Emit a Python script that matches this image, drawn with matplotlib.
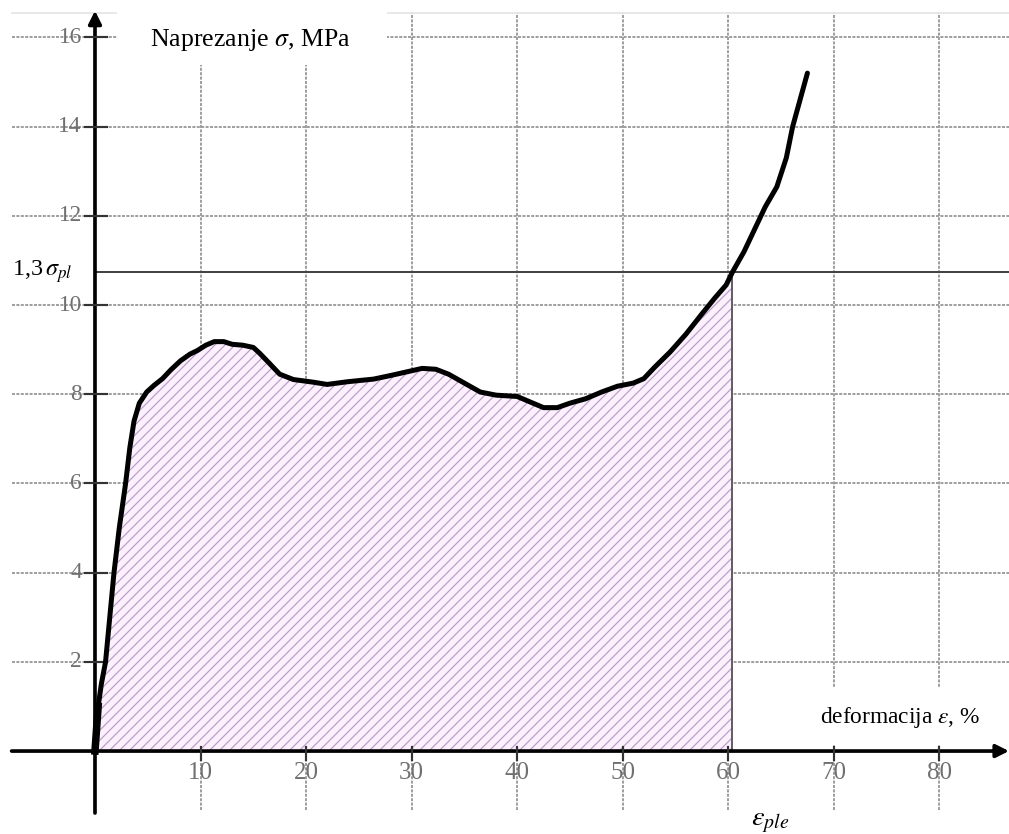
import numpy as np
import matplotlib
matplotlib.use('Agg')
import matplotlib.pyplot as plt
from matplotlib.patches import Rectangle

plt.rcParams['font.family'] = ['Liberation Serif', 'DejaVu Serif']
plt.rcParams['mathtext.fontset'] = 'stix'
plt.rcParams['hatch.linewidth'] = 0.7

# strain (%) and stress (MPa)
strain = [0, 0.15, 0.3, 0.6, 1.0, 1.4, 1.8, 2.3, 2.9, 3.3, 3.7, 4.2, 4.9, 5.6, 6.4,
          7.2, 8.1, 9.0, 9.7, 10.5, 11.3, 12.2, 13.0, 14.0, 15.0, 15.6, 16.5, 17.5,
          18.8, 20.7, 22.0, 23.9, 26.4, 28.0, 29.5, 31.0, 32.3, 33.5, 35.0, 36.5,
          38.0, 40.0, 41.3, 42.5, 43.8, 45.0, 46.5, 48.0, 49.5, 51.0, 52.0, 53.0,
          54.5, 56.0, 57.5, 58.7, 59.8, 60.4, 61.5, 62.5, 63.5, 64.6, 65.5, 66.1,
          66.8, 67.5]
stress = [0, 0.5, 1.0, 1.5, 2.0, 3.0, 4.0, 5.0, 6.0, 6.8, 7.4, 7.8, 8.05, 8.2, 8.35,
          8.55, 8.75, 8.9, 8.98, 9.1, 9.18, 9.18, 9.12, 9.1, 9.05, 8.92, 8.7, 8.45,
          8.33, 8.27, 8.22, 8.28, 8.34, 8.42, 8.5, 8.58, 8.56, 8.45, 8.25, 8.05,
          7.98, 7.95, 7.82, 7.7, 7.7, 7.8, 7.9, 8.05, 8.18, 8.25, 8.35, 8.6,
          8.95, 9.35, 9.8, 10.15, 10.45, 10.74, 11.2, 11.7, 12.2, 12.65, 13.3, 14.0,
          14.6, 15.2]

eps_ple = 60.4
sigma_13 = 10.74
x_ticks = [10, 20, 30, 40, 50, 60, 70, 80]
y_ticks = [2, 4, 6, 8, 10, 12, 14, 16]

strain = np.array(strain)
stress = np.array(stress)

fig = plt.figure(figsize=(1009 / 120, 834 / 120), dpi=120)
ax = fig.add_axes([0, 0, 1, 1])
ax.set_xlim(-9.0, 86.6)
ax.set_ylim(-1.86, 16.84)
ax.axis('off')

grid_kw = dict(color='#a0a0a0', lw=1.2, ls=(0, (1.5, 0.7)), zorder=1)
for yv in y_ticks:
    ax.plot([-7.9, 86.6], [yv, yv], **grid_kw)
for xv in x_ticks:
    ax.plot([xv, xv], [-1.32, 16.55], **grid_kw)
ax.plot([-7.9, 86.6], [16.55, 16.55], color='#e4e4e4', lw=1, zorder=1)

# hatched area up to eps_ple
m = strain <= eps_ple
ax.fill_between(strain[m], 0, stress[m], facecolor='#fcf0fc', edgecolor='#b99ac8',
                hatch='////', linewidth=0, zorder=2)
ax.plot([eps_ple, eps_ple], [0, sigma_13], color='#555555', lw=1.1, zorder=3)
ax.plot([0, 86.6], [sigma_13, sigma_13], color='#444444', lw=1.2, zorder=3)

# white boxes behind the labels
ax.add_patch(Rectangle((2.1, 15.38), 25.6, 1.5, facecolor='white', edgecolor='none', zorder=4))
ax.add_patch(Rectangle((67.0, 0.14), 19.6, 1.3, facecolor='white', edgecolor='none', zorder=4))

# axes with arrows
ax.annotate('', xy=(86.6, 0), xytext=(-7.9, 0),
            arrowprops=dict(arrowstyle='-|>', lw=2.2, color='black', mutation_scale=16,
                            shrinkA=0, shrinkB=0), zorder=6)
ax.annotate('', xy=(0, 16.6), xytext=(0, -1.39),
            arrowprops=dict(arrowstyle='-|>', lw=2.2, color='black', mutation_scale=16,
                            shrinkA=0, shrinkB=0), zorder=6)

for yv in y_ticks:
    ax.plot([-0.95, 1.1], [yv, yv], color='#333333', lw=1.3, zorder=6)
    ax.text(-1.25, yv, str(yv), ha='right', va='center', fontsize=14, color='#707070', zorder=5)
for xv in x_ticks:
    ax.plot([xv, xv], [-0.2, 0.1], color='#333333', lw=1.3, zorder=6)
    ax.text(xv, -0.5, str(xv), ha='center', va='center', fontsize=15, color='#707070', zorder=5)

# curve
ax.plot(strain, stress, color='black', lw=3.0, zorder=7, solid_capstyle='round',
        solid_joinstyle='round')
ax.plot(strain[:3], stress[:3], color='black', lw=4.5, zorder=7)

ax.text(14.7, 15.95, r'Naprezanje $\sigma$, MPa', ha='center', va='center', fontsize=15.5, zorder=8)
ax.text(76.3, 0.76, r'deformacija $\varepsilon$, %', ha='center', va='center', fontsize=14, zorder=8)
ax.text(-5.0, 10.74, r'1,3$\,\sigma_{pl}$', ha='center', va='center', fontsize=14.5, zorder=8)
ax.text(64.0, -1.6, r'$\varepsilon_{ple}$', ha='center', va='center', fontsize=17, zorder=8)

plt.savefig('out.png', dpi=120)
